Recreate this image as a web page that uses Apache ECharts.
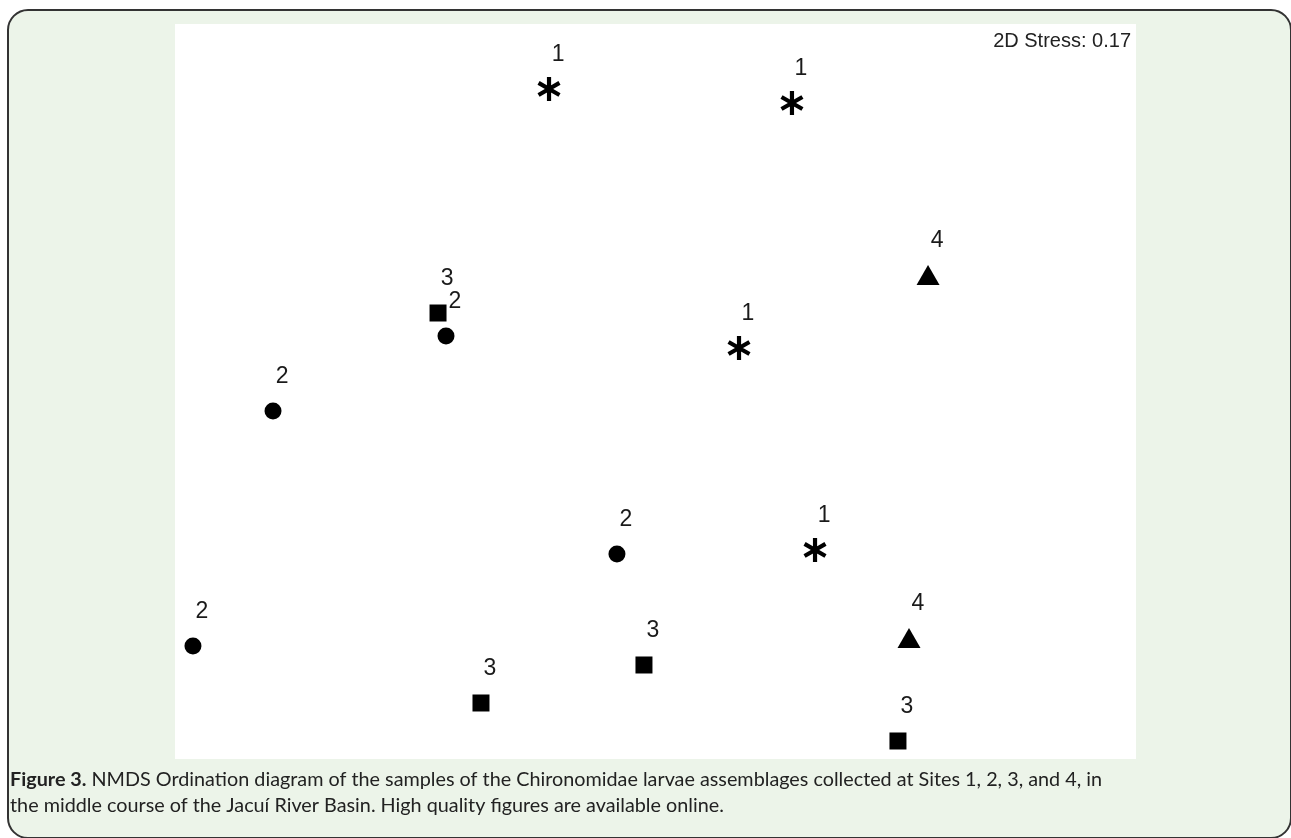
<!DOCTYPE html>
<html>
<head>
<meta charset="utf-8">
<script src="https://cdn.jsdelivr.net/npm/echarts@6/dist/echarts.min.js"></script>
<style>
html,body{margin:0;padding:0;background:#fff;}
#chart{width:1291px;height:838px;}
</style>
</head>
<body>
<div id="chart"></div>
<script>
// NMDS ordination scores (axis units scaled 0–100 across the plotted frame)
var site1 = [[38.92, 91.16], [64.20, 89.25], [58.69, 55.92], [66.60, 28.44]];
var site2 = [[28.20, 57.55], [10.20, 47.35], [45.99, 27.89], [1.87, 15.37]];
var site3 = [[27.37, 60.68], [48.80, 12.79], [31.84, 7.62], [75.23, 2.45]];
var site4 = [[78.36, 65.85], [76.38, 16.46]];
var siteNames = ['1', '2', '3', '4'];
var stressText = '2D Stress: 0.17';
var captionBold = 'Figure 3.';
var captionLine1 = ' NMDS Ordination diagram of the samples of the Chironomidae larvae assemblages collected at Sites 1, 2, 3, and 4, in';
var captionLine2 = 'the middle course of the Jacuí River Basin. High quality figures are available online.';

var asterisk = 'path://M10.1 1 L13.9 1 L13.9 23 L10.1 23 Z M20.55 4.80 L22.45 8.10 L3.45 19.20 L1.55 15.90 Z M1.55 8.10 L3.45 4.80 L22.45 15.90 L20.55 19.20 Z';

var chart = echarts.init(document.getElementById('chart'));

function mkSeries(name, data, symbol, size) {
  return {
    name: name,
    type: 'scatter',
    data: data,
    symbol: symbol,
    symbolSize: size,
    itemStyle: { color: '#000', opacity: 1 },
    label: {
      show: true,
      position: 'inside',
      offset: [9, -34],
      formatter: name,
      color: '#1a1a1a',
      fontFamily: 'Liberation Sans, Arial, sans-serif',
      fontSize: 23
    },
    emphasis: { disabled: true },
    silent: true,
    z: 5
  };
}

var option = {
  animation: false,
  backgroundColor: '#fff',
  grid: {
    left: 175, top: 24, width: 961, height: 735,
    show: true, backgroundColor: '#fff', borderWidth: 0, z: 1
  },
  xAxis: {
    type: 'value', min: 0, max: 100, show: false
  },
  yAxis: {
    type: 'value', min: 0, max: 100, show: false
  },
  graphic: [
    {
      type: 'rect', z: -10, silent: true,
      shape: { x: 8, y: 10, width: 1283, height: 828, r: 20 },
      style: { fill: '#ecf4e9', stroke: '#333', lineWidth: 2 }
    },
    {
      type: 'text', z: 10, silent: true,
      right: 1291 - 1131, top: 31,
      style: {
        text: stressText, fill: '#222',
        font: '20px "Liberation Sans", Arial, sans-serif'
      }
    },
    {
      type: 'text', z: 10, silent: true,
      x: 10, y: 767,
      style: {
        text: '{b|' + captionBold + '}' + captionLine1 + '\n' + captionLine2,
        fill: '#222',
        fontFamily: 'Lato, sans-serif',
        fontSize: 19.8,
        lineHeight: 26,
        rich: {
          b: { fontWeight: 'bold', fontSize: 19.8, fontFamily: 'Lato, sans-serif', fill: '#222', lineHeight: 26 }
        }
      }
    }
  ],
  series: [
    mkSeries(siteNames[0], site1, asterisk, [23, 24]),
    mkSeries(siteNames[1], site2, 'circle', 17),
    mkSeries(siteNames[2], site3, 'rect', 17),
    mkSeries(siteNames[3], site4, 'triangle', [23, 20])
  ]
};
chart.setOption(option);
</script>
</body>
</html>
